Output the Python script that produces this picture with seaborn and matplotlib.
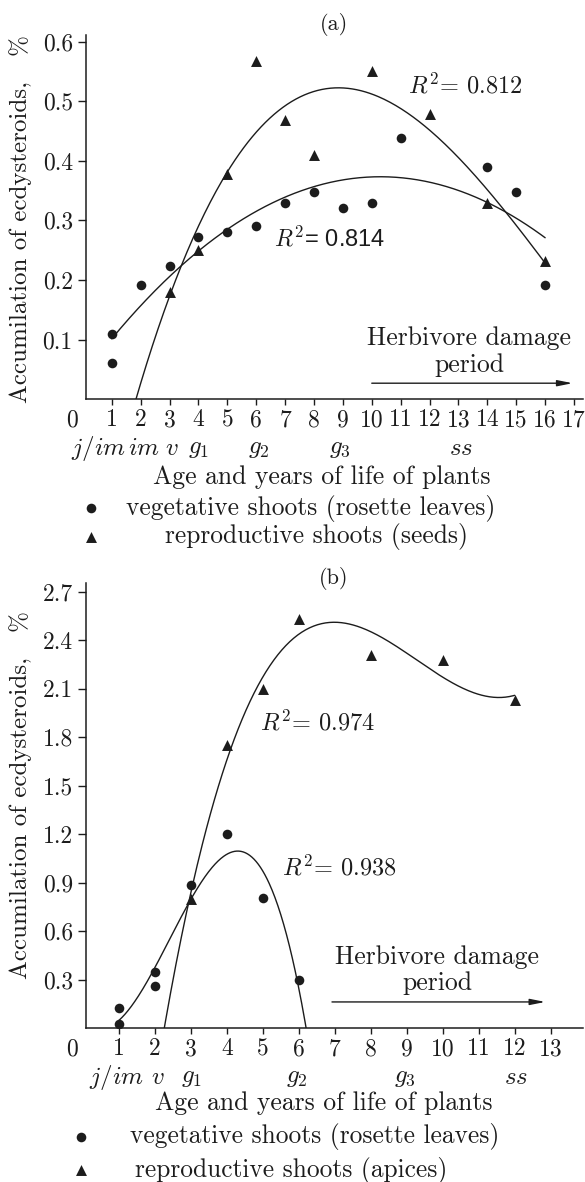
import numpy as np
import matplotlib as mpl
import matplotlib.pyplot as plt
import seaborn as sns

# ---- data ------------------------------------------------------------------
# panel (a)
a_veg_x = [1, 1, 2, 3, 4, 5, 6, 7, 8, 9, 10, 11, 14, 15, 16]
a_veg_y = [0.110, 0.061, 0.192, 0.224, 0.272, 0.281, 0.291, 0.330,
           0.348, 0.321, 0.330, 0.439, 0.389, 0.348, 0.192]
a_rep_x = [3, 4, 5, 6, 7, 8, 10, 12, 14, 16]
a_rep_y = [0.180, 0.250, 0.378, 0.568, 0.468, 0.410, 0.550, 0.478, 0.330, 0.232]
a_xticks = list(range(1, 18))
a_yticks = [0.1, 0.2, 0.3, 0.4, 0.5, 0.6]
a_stages = ["$j/im$", "$im$", "$v$", "$g_1$", "$g_2$", "$g_3$", "$ss$"]
a_stage_x = [0.56, 2.13, 3.07, 4.0, 6.1, 8.91, 13.1]
a_r2 = ["$R^2$= 0.814", "$R^2$= 0.812"]

# panel (b)
b_veg_x = [1, 1, 2, 2, 3, 4, 5, 6]
b_veg_y = [0.125, 0.025, 0.348, 0.260, 0.885, 1.200, 0.805, 0.298]
b_rep_x = [3, 4, 5, 6, 8, 10, 12]
b_rep_y = [0.80, 1.75, 2.10, 2.53, 2.31, 2.28, 2.03]
b_xticks = list(range(1, 14))
b_yticks = [0.3, 0.6, 0.9, 1.2, 1.5, 1.8, 2.1, 2.4, 2.7]
b_stages = ["$j/im$", "$v$", "$g_1$", "$g_2$", "$g_3$", "$ss$"]
b_stage_x = [0.94, 2.08, 3.03, 5.94, 8.94, 12.04]
b_r2 = ["$R^2$= 0.938", "$R^2$= 0.974"]

ylabel = "Accumilation of ecdysteroids,   %"
xlabel = "Age and years of life of plants"
veg_label = "vegetative shoots (rosette leaves)"
rep_label_a = "reproductive shoots (seeds)"
rep_label_b = "reproductive shoots (apices)"

# ---- style ------------------------------------------------------------------
sns.set_style("ticks")
INK = "#1c1c1c"
plt.rcParams.update({
    "font.family": "serif",
    "font.serif": ["cmr10"],
    "mathtext.fontset": "cm",
    "axes.unicode_minus": False,
    "axes.formatter.use_mathtext": True,
    "axes.linewidth": 1.1,
    "axes.edgecolor": INK,
    "text.color": INK,
    "xtick.color": INK,
    "ytick.color": INK,
    "xtick.major.size": 4,
    "ytick.major.size": 5.5,
    "xtick.major.width": 1.0,
    "ytick.major.width": 1.0,
    "xtick.major.pad": 3,
    "ytick.major.pad": 4,
    "xtick.labelsize": 17,
    "ytick.labelsize": 17,
})

W, H = 585, 1182
fig = plt.figure(figsize=(W / 100, H / 100), dpi=100)


def px_axes(left, top, right, bottom):
    return fig.add_axes([left / W, 1 - bottom / H, (right - left) / W, (bottom - top) / H])


ax_a = px_axes(86, 35, 583, 399.3)
ax_b = px_axes(86, 583, 583, 1028.3)


def draw_panel(ax, veg_x, veg_y, rep_x, rep_y, veg_deg, rep_deg,
               veg_rng, rep_rng, xlim, ylim, xticks, yticks):
    sns.scatterplot(x=veg_x, y=veg_y, ax=ax, marker="o", s=48,
                    color=INK, edgecolor=INK, linewidth=0, zorder=3)
    sns.scatterplot(x=rep_x, y=rep_y, ax=ax, marker="^", s=62,
                    color=INK, edgecolor=INK, linewidth=0, zorder=3)
    # polynomial trend lines fitted to the points
    for xs, ys, deg, rng in [(veg_x, veg_y, veg_deg, veg_rng),
                             (rep_x, rep_y, rep_deg, rep_rng)]:
        coef = np.polyfit(xs, ys, deg)
        gx = np.linspace(rng[0], rng[1], 300)
        sns.lineplot(x=gx, y=np.polyval(coef, gx), ax=ax, color=INK,
                     linewidth=1.0, zorder=2)
    ax.set_xlim(*xlim)
    ax.set_ylim(*ylim)
    ax.set_xticks(xticks)
    ax.set_xticklabels([str(t) for t in xticks])
    ax.set_yticks(yticks)
    ax.set_yticklabels([f"{t:.1f}" for t in yticks])
    sns.despine(ax=ax)
    ax.set_xlabel("")
    ax.set_ylabel("")
    # the "0" at the origin
    ax.annotate("0", xy=(xlim[0], 0), xycoords=("data", "axes fraction"),
                xytext=(-10, -7), textcoords="offset points",
                ha="center", va="top", fontsize=17)


draw_panel(ax_a, a_veg_x, a_veg_y, a_rep_x, a_rep_y, 2, 3,
           (1, 16), (1, 16), (0.11, 17.31), (0, 0.611), a_xticks, a_yticks)
draw_panel(ax_b, b_veg_x, b_veg_y, b_rep_x, b_rep_y, 3, 3,
           (1, 7), (1, 12), (0.08, 13.9), (0, 2.754), b_xticks, b_yticks)

# age-stage labels under the ticks
for ax, labs, xs in [(ax_a, a_stages, a_stage_x), (ax_b, b_stages, b_stage_x)]:
    for lab, x in zip(labs, xs):
        ax.annotate(lab, xy=(x, 0), xycoords=("data", "axes fraction"),
                    xytext=(0, -35.5), textcoords="offset points",
                    ha="center", va="center", fontsize=18)

# R^2 annotations
ax_a.text(6.63, 0.269, a_r2[0], family="Liberation Sans", fontsize=17, va="center")
ax_a.text(11.25, 0.526, a_r2[1], fontsize=17.5, va="center")
ax_b.text(5.53, 0.992, b_r2[0], fontsize=17.5, va="center")
ax_b.text(4.92, 1.888, b_r2[1], fontsize=17.5, va="center")

# herbivore damage period
for ax, cx, y1, y2, ya, x0, x1 in [(ax_a, 13.37, 0.103, 0.058, 0.027, 10.0, 16.95),
                                  (ax_b, 9.84, 0.441, 0.280, 0.163, 6.92, 12.85)]:
    ax.text(cx, y1, "Herbivore damage", ha="center", va="center", fontsize=18.5)
    ax.text(cx, y2, "period", ha="center", va="center", fontsize=18.5)
    ax.annotate("", xy=(x1, ya), xytext=(x0, ya),
                arrowprops=dict(arrowstyle="-|>,head_length=0.9,head_width=0.18",
                                color=INK, lw=1.0, shrinkA=0, shrinkB=0))

# panel titles, axis titles, legends (pixel positions)
def ftext(x, y, s, **kw):
    fig.text(x / W, 1 - y / H, s, **kw)


ftext(334, 25, "(a)", ha="center", va="center", fontsize=16)
ftext(334, 578, "(b)", ha="center", va="center", fontsize=16)
ftext(21, 219, ylabel, rotation=90, ha="center", va="center", fontsize=18)
ftext(21, 795, ylabel, rotation=90, ha="center", va="center", fontsize=18)
ftext(322, 477, xlabel, ha="center", va="center", fontsize=18.5)
ftext(324, 1103, xlabel, ha="center", va="center", fontsize=18.5)

for mx, my, marker, tx, label in [(91, 508, "o", 126, veg_label),
                                  (91, 537, "^", 165, rep_label_a),
                                  (81, 1137, "o", 130, veg_label),
                                  (81, 1170, "^", 135, rep_label_b)]:
    ax_a.scatter([mx / W], [1 - my / H], transform=fig.transFigure, marker=marker,
                 s=48 if marker == "o" else 62, color=INK, linewidth=0, clip_on=False)
    ftext(tx, my, label, ha="left", va="center", fontsize=18.3)

fig.savefig("out.png", dpi=100)
